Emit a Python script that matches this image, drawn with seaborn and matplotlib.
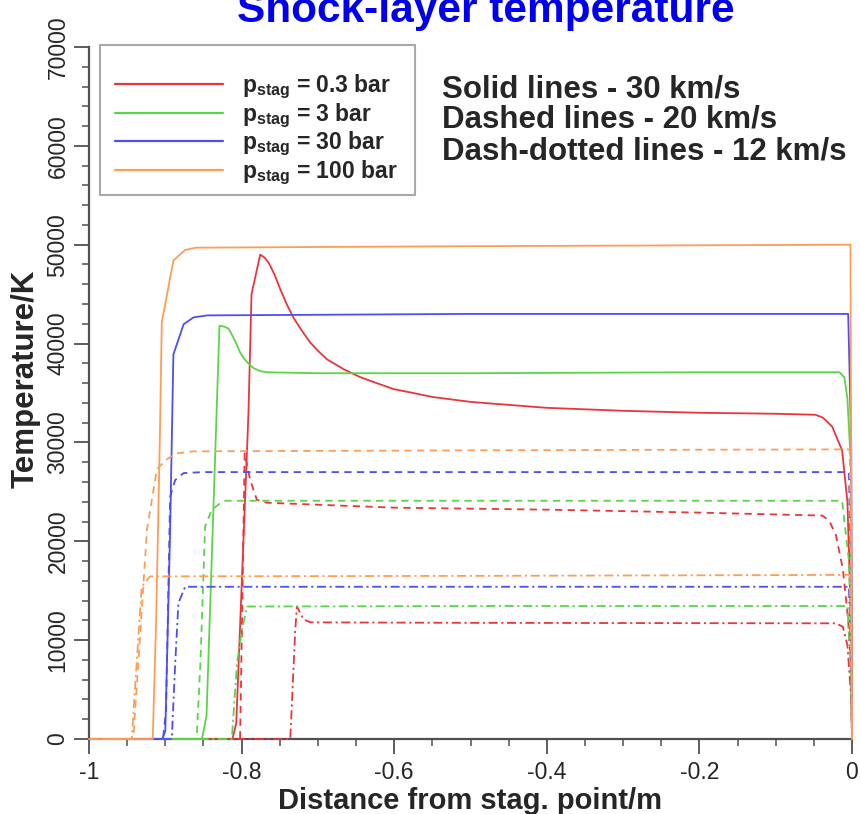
import matplotlib
matplotlib.use("Agg")
import matplotlib.pyplot as plt
from matplotlib.lines import Line2D
from matplotlib.patches import Rectangle
from matplotlib.ticker import MultipleLocator
import seaborn as sns
import pandas as pd

# ---------------- data ----------------
pressures = ["0.3 bar", "3 bar", "30 bar", "100 bar"]
speeds = ["30 km/s", "20 km/s", "12 km/s"]
colors = ["#e9353b", "#58d648", "#4d4dfa", "#ff9d55"]

# 30 km/s (solid)
x_p03_v30 = [-1.0, -0.812, -0.807, -0.791, -0.787, -0.7756, -0.770, -0.7647, -0.757, -0.7493, -0.741,
             -0.7319, -0.721, -0.710, -0.699, -0.688, -0.666, -0.6444, -0.623, -0.601, -0.575, -0.55,
             -0.50, -0.45, -0.40, -0.30, -0.20, -0.10, -0.048, -0.038, -0.026, -0.013, -0.006, -0.002, 0.0]
t_p03_v30 = [0, 0, 1600, 33000, 45000, 49000, 48700, 48200, 47000, 45500, 44000,
             42600, 41300, 40100, 39200, 38400, 37400, 36600, 36000, 35400, 35000, 34600,
             34100, 33800, 33500, 33200, 33000, 32900, 32800, 32500, 31600, 29200, 24000, 13700, 0]
x_p3_v30 = [-1.0, -0.852, -0.846, -0.829, -0.822, -0.817, -0.812, -0.807, -0.802, -0.797, -0.790, -0.784,
            -0.775, -0.767, -0.70, -0.5, -0.2, -0.0165, -0.010, -0.006, -0.0013, 0.0]
t_p3_v30 = [0, 0, 2300, 41800, 41700, 41500, 40800, 40000, 39100, 38500, 37900, 37500,
            37200, 37100, 37000, 37000, 37100, 37100, 36600, 34400, 27500, 0]
x_p30_v30 = [-1.0, -0.904, -0.900, -0.8937, -0.8894, -0.876, -0.863, -0.845, -0.5, -0.005, -0.001, 0.0]
t_p30_v30 = [0, 0, 800, 21000, 38900, 41950, 42650, 42850, 43000, 43000, 30000, 0]
x_p100_v30 = [-1.0, -0.9165, -0.912, -0.907, -0.9046, -0.8894, -0.874, -0.860, -0.5, -0.002, 0.0]
t_p100_v30 = [0, 0, 12000, 31000, 42150, 48400, 49470, 49700, 49850, 50000, 0]

# 20 km/s (dashed)
x_p03_v20 = [-1.0, -0.802, -0.799, -0.796, -0.7887, -0.780, -0.767, -0.6, -0.4, -0.2, -0.039, -0.030,
             -0.021, -0.012, -0.005, -0.001, 0.0]
t_p03_v20 = [0, 0, 14000, 28900, 26200, 24200, 23900, 23400, 23200, 22900, 22600, 22100,
             20600, 17200, 12000, 6900, 0]
x_p3_v20 = [-1.0, -0.859, -0.854, -0.8478, -0.839, -0.8237, -0.5, -0.013, -0.004, -0.001, 0.0]
t_p3_v20 = [0, 0, 7700, 21500, 23200, 24100, 24100, 24100, 18000, 8000, 0]
x_p30_v20 = [-1.0, -0.903, -0.899, -0.8937, -0.887, -0.876, -0.85, -0.5, -0.004, -0.001, 0.0]
t_p30_v20 = [0, 0, 3000, 24500, 26200, 26900, 27000, 27000, 27000, 15000, 0]
x_p100_v20 = [-1.0, -0.942, -0.9353, -0.924, -0.911, -0.898, -0.885, -0.863, -0.5, -0.003, -0.001, 0.0]
t_p100_v20 = [0, 0, 7700, 21200, 27300, 28300, 28900, 29100, 29200, 29300, 15000, 0]

# 12 km/s (dash-dotted)
x_p03_v12 = [-1.0, -0.7362, -0.7297, -0.7275, -0.7188, -0.710, -0.5, -0.021, -0.012, -0.006, -0.001, 0.0]
t_p03_v12 = [0, 0, 11000, 13400, 12100, 11800, 11750, 11700, 11350, 9500, 4000, 0]
x_p3_v12 = [-1.0, -0.8128, -0.806, -0.7996, -0.793, -0.5, -0.006, -0.001, 0.0]
t_p3_v12 = [0, 0, 7700, 11000, 13400, 13450, 13450, 6000, 0]
x_p30_v12 = [-1.0, -0.8915, -0.887, -0.8828, -0.874, -0.5, -0.004, -0.001, 0.0]
t_p30_v12 = [0, 0, 7700, 13750, 15400, 15400, 15400, 8000, 0]
x_p100_v12 = [-1.0, -0.944, -0.9375, -0.931, -0.92, -0.5, -0.003, -0.001, 0.0]
t_p100_v12 = [0, 0, 7700, 15400, 16450, 16500, 16600, 8000, 0]

x_ticks = [-1, -0.8, -0.6, -0.4, -0.2, 0]
x_ticklabels = ["-1", "-0.8", "-0.6", "-0.4", "-0.2", "0"]
y_ticks = [0, 10000, 20000, 30000, 40000, 50000, 60000, 70000]

curves = {
    ("0.3 bar", "30 km/s"): (x_p03_v30, t_p03_v30),
    ("3 bar", "30 km/s"): (x_p3_v30, t_p3_v30),
    ("30 bar", "30 km/s"): (x_p30_v30, t_p30_v30),
    ("100 bar", "30 km/s"): (x_p100_v30, t_p100_v30),
    ("0.3 bar", "20 km/s"): (x_p03_v20, t_p03_v20),
    ("3 bar", "20 km/s"): (x_p3_v20, t_p3_v20),
    ("30 bar", "20 km/s"): (x_p30_v20, t_p30_v20),
    ("100 bar", "20 km/s"): (x_p100_v20, t_p100_v20),
    ("0.3 bar", "12 km/s"): (x_p03_v12, t_p03_v12),
    ("3 bar", "12 km/s"): (x_p3_v12, t_p3_v12),
    ("30 bar", "12 km/s"): (x_p30_v12, t_p30_v12),
    ("100 bar", "12 km/s"): (x_p100_v12, t_p100_v12),
}

rows = []
for (p, v), (xs, ts) in curves.items():
    for xx, tt in zip(xs, ts):
        rows.append({"pressure": p, "speed": v, "x": xx, "T": tt})
df = pd.DataFrame(rows)

# ---------------- style ----------------
sns.set_style("ticks")
plt.rcParams["font.family"] = ["Liberation Sans", "DejaVu Sans"]
plt.rcParams["mathtext.fontset"] = "custom"
plt.rcParams["mathtext.bf"] = "Liberation Sans:bold"
plt.rcParams["mathtext.rm"] = "Liberation Sans"
plt.rcParams["mathtext.it"] = "Liberation Sans:italic"

fig = plt.figure(figsize=(8.6, 8.14), dpi=100)
ax = fig.add_axes([89 / 860, 1 - 739 / 814, (852 - 89) / 860, (739 - 47) / 814])

dash_map = {"30 km/s": "", "20 km/s": (4, 3), "12 km/s": (5, 2, 1.2, 2)}
sns.lineplot(data=df, x="x", y="T", hue="pressure", style="speed",
             hue_order=pressures, style_order=speeds,
             palette=dict(zip(pressures, colors)), dashes=dash_map,
             estimator=None, sort=False,
             linewidth=1.3, legend=False, ax=ax)
for ln in ax.lines:
    ln.set_clip_on(False)
    ln.set_zorder(3)

ax.set_xlim(-1, 0)
ax.set_ylim(0, 70000)
ax.set_xticks(x_ticks)
ax.set_xticklabels(x_ticklabels)
ax.set_yticks(y_ticks)
ax.xaxis.set_minor_locator(MultipleLocator(0.05))
ax.yaxis.set_minor_locator(MultipleLocator(2000))
sns.despine(ax=ax)
for s in ["left", "bottom"]:
    ax.spines[s].set_color("#505050")
    ax.spines[s].set_linewidth(1.6)
ax.tick_params(which="major", length=11, width=1.3, color="#505050", labelsize=16.5)
ax.tick_params(which="minor", length=5, width=1.1, color="#505050")
ax.tick_params(axis="x", pad=5)
ax.tick_params(axis="y", pad=3, labelrotation=90)
for lbl in ax.get_yticklabels():
    lbl.set_va("center")

ax.set_xlabel("Distance from stag. point/m", fontsize=21, fontweight="bold", labelpad=2)
ax.set_ylabel("Temperature/K", fontsize=22.5, fontweight="bold")
ax.yaxis.set_label_coords(-0.064, 0.52)

# legend
fig.patches.append(Rectangle((100 / 860, 1 - 195 / 814), 315 / 860, 150 / 814,
                             transform=fig.transFigure, fill=False,
                             edgecolor="#aaaaaa", linewidth=1.5, zorder=5))
handles = [Line2D([0], [0], color=c, lw=1.6) for c in colors]
labels = [r"$\mathbf{p}_{\mathbf{stag}}$ = " + p for p in pressures]
leg = fig.legend(handles, labels, loc="upper left",
                 bbox_to_anchor=(115 / 860, 1 - 72.5 / 814), bbox_transform=fig.transFigure,
                 borderaxespad=0, borderpad=0, prop={"weight": "bold", "size": 16.5},
                 handlelength=4.7, handletextpad=0.83, labelspacing=0.01, frameon=False)

ann = ["Solid lines - 30 km/s", "Dashed lines - 20 km/s", "Dash-dotted lines - 12 km/s"]
for s, yb in zip(ann, [97, 128, 160]):
    fig.text(442 / 860, 1 - yb / 814, s, fontsize=22.5, fontweight="bold", va="baseline")

fig.text(486 / 860, 1 - 22 / 814, "Shock-layer temperature", ha="center", va="baseline",
         fontsize=30.5, fontweight="bold", color="#0000ee")

fig.savefig("out.png", dpi=100)
